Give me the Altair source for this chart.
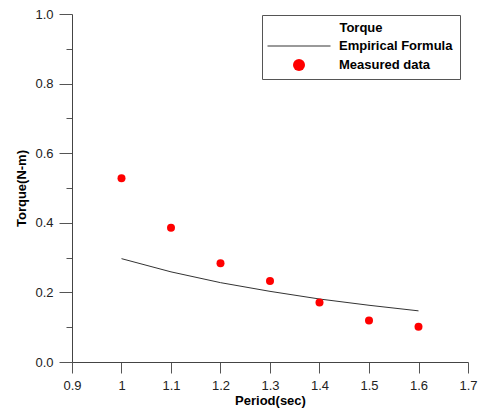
import altair as alt
import pandas as pd

period = [1.0, 1.1, 1.2, 1.3, 1.4, 1.5, 1.6]
measured = [0.528, 0.386, 0.284, 0.233, 0.171, 0.119, 0.101]
empirical = [0.297, 0.259, 0.228, 0.203, 0.181, 0.163, 0.147]
series_names = ["Empirical Formula", "Measured data"]
x_ticks = [0.9, 1.0, 1.1, 1.2, 1.3, 1.4, 1.5, 1.6, 1.7]
y_ticks = [0.0, 0.1, 0.2, 0.3, 0.4, 0.5, 0.6, 0.7, 0.8, 0.9, 1.0]

df_line = pd.DataFrame({"period": period, "torque": empirical})
df_pts = pd.DataFrame({"period": period, "torque": measured,
                       "series": ["Measured data"] * len(period)})

FONT = "Liberation Sans"

x_enc = alt.X("period:Q", scale=alt.Scale(domain=[0.9, 1.7], nice=False, zero=False),
              axis=alt.Axis(title="Period(sec)", values=x_ticks, format="~g",
                            grid=False, tickSize=11, titlePadding=2, labelPadding=6,
                            labelFlush=False))
y_enc = alt.Y("torque:Q", scale=alt.Scale(domain=[0, 1], nice=False),
              axis=alt.Axis(title="Torque(N-m)", values=y_ticks, grid=False,
                            labelExpr="round(datum.value*10) % 2 == 1 ? '' : format(datum.value, '.1f')",
                            tickSize={"condition": {"test": "round(datum.value*10) % 2 == 1", "value": 6},
                                      "value": 13},
                            labelPadding=6, titlePadding=6, labelFlush=False))

line = alt.Chart(df_line).mark_line(color="#333333", strokeWidth=1).encode(
    x=x_enc, y=y_enc)

bar_path = "M-5.25,-0.12H5.25V0.12H-5.25Z"
leg = dict(title="Torque", orient="none", legendX=190, legendY=1,
           titleAnchor="middle", strokeColor="#555555",
           fillColor="white", padding=7, symbolSize=144,
           symbolOffset=23, labelOffset=33, rowPadding=5, titlePadding=4)
pts = alt.Chart(df_pts).mark_point(filled=True, opacity=1, size=64).encode(
    x=x_enc, y=y_enc,
    color=alt.Color("series:N", scale=alt.Scale(domain=series_names, range=["#777777", "#ff0000"]),
                    legend=alt.Legend(**leg)),
    shape=alt.Shape("series:N", scale=alt.Scale(domain=series_names, range=[bar_path, "circle"]),
                    legend=alt.Legend(**leg)),
)

chart = alt.layer(line, pts).properties(
    width=396, height=348,
    autosize=alt.AutoSizeParams(type="none"),
    padding={"left": 64, "top": 6, "right": 10, "bottom": 46},
).configure_view(stroke=None).configure_axis(
    labelFont=FONT, labelFontSize=13, labelColor="#222222",
    titleFont=FONT, titleFontSize=13, titleFontWeight="bold", titleColor="#000000",
    domainColor="#444444", tickColor="#555555",
).configure_legend(
    titleFont=FONT, titleFontSize=13, titleFontWeight="bold", titleColor="#000000",
    labelFont=FONT, labelFontSize=13, labelFontWeight="bold", labelColor="#000000",
)

chart.save("out.html", embed_options={"renderer": "svg", "actions": False})
